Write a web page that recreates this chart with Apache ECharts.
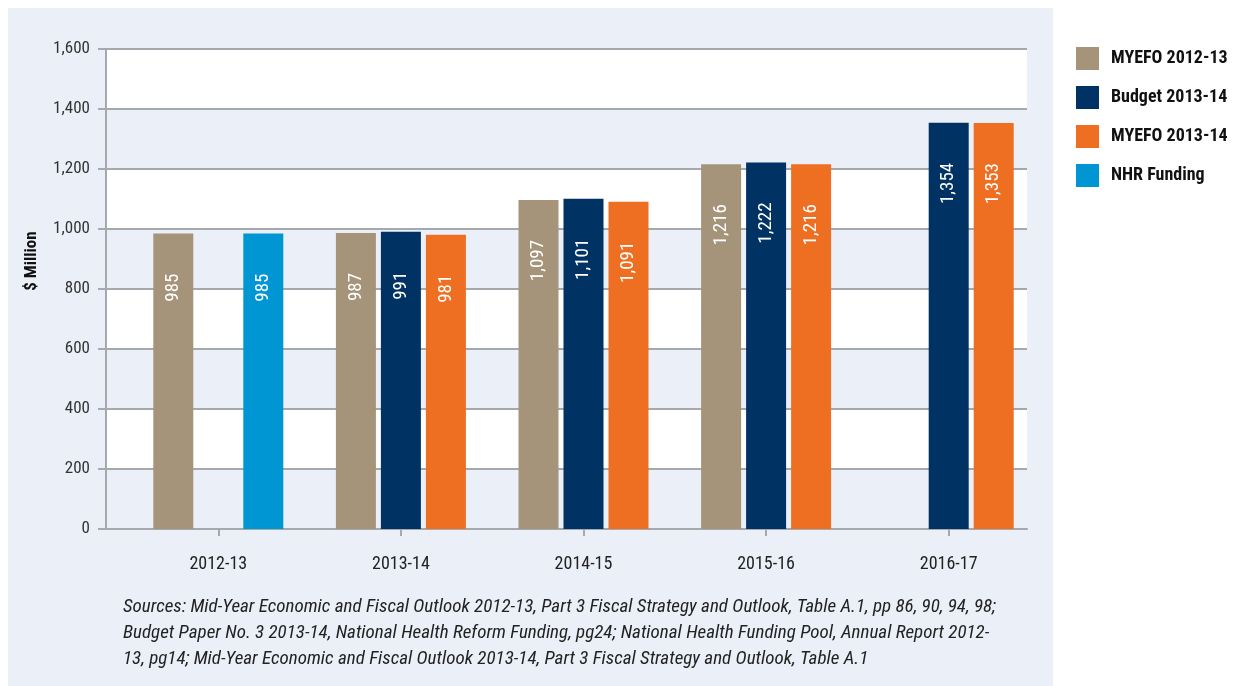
<!DOCTYPE html>
<html>
<head>
<meta charset="utf-8">
<style>
  html, body { margin: 0; padding: 0; background: #ffffff; }
  #chart { width: 1245px; height: 686px; }
</style>
<script src="https://cdn.jsdelivr.net/npm/echarts@6/dist/echarts.min.js"></script>
</head>
<body>
<div id="chart"></div>
<script>
// categories and series values (null = no bar)
const years = ["2012-13", "2013-14", "2014-15", "2015-16", "2016-17"];
const myefo1213 = [985, 987, 1097, 1216, null];
const budget1314 = [null, 991, 1101, 1222, 1354];
const myefo1314 = [null, 981, 1091, 1216, 1353];
const nhrFunding = [985, null, null, null, null];
const yTicks = [0, 200, 400, 600, 800, 1000, 1200, 1400, 1600];

const FONT = "'Liberation Sans Narrow', 'Roboto Condensed', Arial, sans-serif";

const sources =
  "Sources: Mid-Year Economic and Fiscal Outlook 2012-13, Part 3 Fiscal Strategy and Outlook, Table A.1, pp 86, 90, 94, 98;\n" +
  "Budget Paper No. 3 2013-14, National Health Reform Funding, pg24; National Health Funding Pool, Annual Report 2012-\n" +
  "13, pg14; Mid-Year Economic and Fiscal Outlook 2013-14, Part 3 Fiscal Strategy and Outlook, Table A.1";

function fmt(v) {
  return Number(v).toLocaleString("en-US");
}

// label inside bar, rotated, near the top
const barLabel = {
  show: true,
  position: "insideTop",
  rotate: 90,
  align: "right",
  verticalAlign: "middle",
  distance: 40,
  color: "#ffffff",
  fontFamily: FONT,
  fontSize: 19,
  formatter: p => fmt(p.value)
};

function makeBar(name, data, color, stack) {
  return {
    name: name,
    type: "bar",
    xAxisIndex: 1,
    yAxisIndex: 1,
    stack: stack,
    data: data,
    barWidth: 40,
    barGap: "12.5%",
    itemStyle: { color: color },
    label: barLabel
  };
}

const chart = echarts.init(document.getElementById("chart"), null, { renderer: "canvas" });

const option = {
  animation: false,
  backgroundColor: "#ffffff",
  graphic: [
    {
      type: "rect",
      z: -10,
      silent: true,
      shape: { x: 8, y: 8, width: 1045, height: 678 },
      style: { fill: "#ebeff8" }
    },
    {
      type: "text",
      x: 32,
      y: 261,
      rotation: Math.PI / 2,
      style: {
        text: "$ Million",
        font: "bold 17px " + FONT,
        fill: "#111111",
        align: "center",
        verticalAlign: "middle"
      }
    },
    {
      type: "text",
      left: 123,
      top: 594,
      style: {
        text: sources,
        font: "italic 19px " + FONT,
        fill: "#222222",
        lineHeight: 26
      }
    }
  ],
  legend: {
    orient: "vertical",
    left: 1071,
    top: 42,
    itemWidth: 23,
    itemHeight: 23,
    itemGap: 16,
    icon: "rect",
    data: ["MYEFO 2012-13", "Budget 2013-14", "MYEFO 2013-14", "NHR Funding"],
    textStyle: {
      fontFamily: FONT,
      fontSize: 18,
      fontWeight: "bold",
      color: "#111111",
      padding: [0, 0, 0, 7]
    }
  },
  grid: [
    // background grid: bands, y axis, axis line
    { left: 106, right: 218, top: 49, bottom: 157 },
    // bars grid, shifted slightly as in the reference
    { left: 127, right: 205, top: 49, bottom: 157 }
  ],
  xAxis: [
    {
      gridIndex: 0,
      type: "category",
      data: years,
      axisLine: { lineStyle: { color: "#a5a8ad", width: 2 } },
      axisTick: { show: false },
      axisLabel: { show: false }
    },
    {
      gridIndex: 1,
      type: "category",
      data: years,
      axisLine: { show: false },
      axisTick: { show: true, alignWithLabel: true, length: 7, lineStyle: { color: "#a5a8ad", width: 2 } },
      axisLabel: { margin: 26, fontFamily: FONT, fontSize: 18, color: "#222222" }
    }
  ],
  yAxis: [
    {
      gridIndex: 0,
      type: "value",
      min: yTicks[0],
      max: yTicks[yTicks.length - 1],
      interval: 200,
      axisLine: { show: true, lineStyle: { color: "#a5a8ad", width: 2 } },
      axisTick: { show: true, length: 8, lineStyle: { color: "#a5a8ad", width: 2 } },
      axisLabel: { margin: 16, fontFamily: FONT, fontSize: 17, color: "#333333", formatter: v => fmt(v) },
      splitLine: { show: true, lineStyle: { color: "#a5a8ad", width: 2 } },
      splitArea: { show: true, areaStyle: { color: ["#ebeff8", "#ffffff"] } }
    },
    {
      gridIndex: 1,
      type: "value",
      min: yTicks[0],
      max: yTicks[yTicks.length - 1],
      interval: 200,
      show: false
    }
  ],
  series: [
    makeBar("MYEFO 2012-13", myefo1213, "#a5947a", "a"),
    makeBar("Budget 2013-14", budget1314, "#003263", "b"),
    makeBar("MYEFO 2013-14", myefo1314, "#ee6f22", "c"),
    makeBar("NHR Funding", nhrFunding, "#0096d4", "c")
  ]
};

chart.setOption(option);
</script>
</body>
</html>
